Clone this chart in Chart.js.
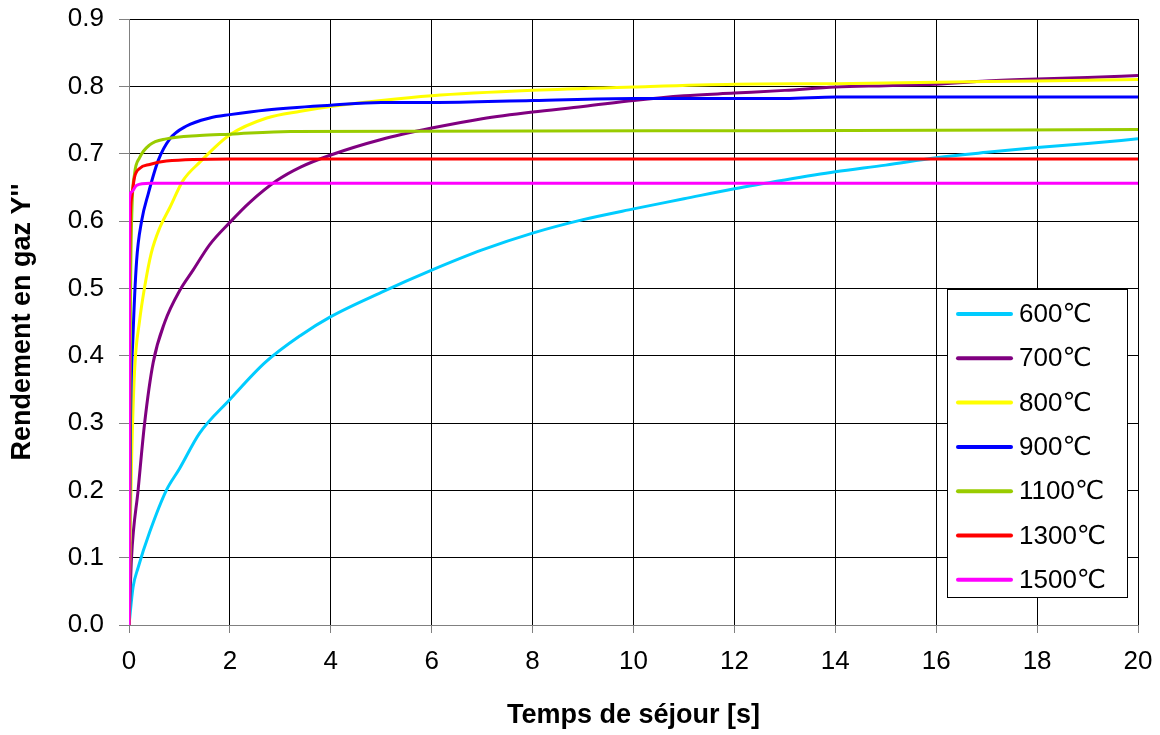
<!DOCTYPE html>
<html>
<head>
<meta charset="utf-8">
<script src="https://cdn.jsdelivr.net/npm/chart.js"></script>
<style>
  body { margin: 0; background: #fff; }
  canvas { display: block; }
</style>
</head>
<body>
<canvas id="chart" width="1160" height="735"></canvas>
<script>
// Series data (time in s, yield Y'')
const labels = ['600℃', '700℃', '800℃', '900℃', '1100℃', '1300℃', '1500℃'];
const colors = ['#00CCFF', '#800080', '#FFFF00', '#0000FF', '#99CC00', '#FF0000', '#FF00FF'];

const t600 = [0, 0.08, 0.18, 0.41, 0.74, 1.0, 1.4, 2.0, 2.7, 3.4, 4, 5, 6, 7, 8, 9, 10, 11, 12, 13, 14, 15, 16, 17, 18, 19, 20];
const y600 = [0, 0.056, 0.085, 0.138, 0.2, 0.232, 0.285, 0.335, 0.39, 0.43, 0.458, 0.494, 0.527, 0.557, 0.582, 0.602, 0.618, 0.633, 0.648, 0.661, 0.673, 0.683, 0.694, 0.702, 0.709, 0.715, 0.722];

const t700 = [0, 0.05, 0.18, 0.31, 0.48, 0.71, 1.0, 1.27, 1.6, 2.0, 2.4, 2.93, 3.4, 4, 5, 6, 7, 8, 9, 10, 11, 12, 13, 14, 15, 16, 17, 18, 19, 20];
const y700 = [0, 0.1, 0.2, 0.3, 0.39, 0.45, 0.496, 0.527, 0.565, 0.598, 0.628, 0.66, 0.68, 0.698, 0.721, 0.738, 0.752, 0.762, 0.77, 0.779, 0.786, 0.79, 0.794, 0.799, 0.801, 0.803, 0.808, 0.811, 0.813, 0.816];

const t800 = [0, 0.02, 0.05, 0.11, 0.21, 0.31, 0.44, 0.61, 0.81, 1.07, 1.4, 2.0, 2.73, 3.4, 4, 5, 6, 8, 10, 12, 14, 16, 18, 20];
const y800 = [0, 0.12, 0.24, 0.377, 0.452, 0.502, 0.552, 0.59, 0.62, 0.66, 0.687, 0.728, 0.753, 0.763, 0.770, 0.779, 0.786, 0.794, 0.799, 0.803, 0.804, 0.806, 0.808, 0.81];

const t900 = [0, 0.03, 0.08, 0.15, 0.25, 0.38, 0.58, 0.81, 1.14, 1.6, 2.0, 2.73, 4, 5, 6, 8, 10, 13, 14, 20];
const y900 = [0, 0.3, 0.43, 0.54, 0.6, 0.64, 0.69, 0.722, 0.741, 0.753, 0.758, 0.765, 0.772, 0.776, 0.776, 0.779, 0.782, 0.782, 0.784, 0.784];

const t1100 = [0, 0.02, 0.03, 0.06, 0.11, 0.21, 0.41, 0.74, 1.4, 2.0, 3.2, 12.7, 20];
const y1100 = [0, 0.35, 0.49, 0.62, 0.67, 0.694, 0.713, 0.722, 0.727, 0.729, 0.733, 0.734, 0.736];

const t1300 = [0, 0.01, 0.05, 0.11, 0.21, 0.41, 0.74, 2.0, 20];
const y1300 = [0, 0.52, 0.634, 0.665, 0.678, 0.684, 0.689, 0.692, 0.692];

const t1500 = [0, 0.005, 0.05, 0.15, 0.41, 20];
const y1500 = [0, 0.628, 0.643, 0.653, 0.656, 0.656];

const xTicks = [0, 2, 4, 6, 8, 10, 12, 14, 16, 18, 20];
const yTicks = [0, 0.1, 0.2, 0.3, 0.4, 0.5, 0.6, 0.7, 0.8, 0.9];

const times = [t600, t700, t800, t900, t1100, t1300, t1500];
const yields = [y600, y700, y800, y900, y1100, y1300, y1500];

const FONT = '"Liberation Sans", Arial, "DejaVu Sans", sans-serif';

// Build datasets
const datasets = labels.map((lab, i) => ({
    label: lab,
    data: times[i].map((t, j) => ({ x: t, y: yields[i][j] })),
    borderColor: colors[i],
    backgroundColor: colors[i],
    borderWidth: 3,
    pointRadius: 0,
    cubicInterpolationMode: 'monotone',
    fill: false,
    order: labels.length - i
}));

// Legend box drawn inside the plot area, like the Excel one
const boxLegend = {
    id: 'boxLegend',
    afterDraw(chart) {
        const ctx = chart.ctx;
        const x = 947.5, y = 289.5, w = 180, h = 308;
        ctx.save();
        ctx.fillStyle = '#fff';
        ctx.fillRect(x, y, w, h);
        ctx.strokeStyle = '#000';
        ctx.lineWidth = 1;
        ctx.strokeRect(x, y, w, h);
        ctx.font = '26px ' + FONT;
        ctx.textBaseline = 'middle';
        ctx.textAlign = 'left';
        chart.data.datasets.forEach((ds, i) => {
            const ry = 314 + i * 44.3;
            ctx.strokeStyle = ds.borderColor;
            ctx.lineWidth = 4;
            ctx.lineCap = 'round';
            ctx.beginPath();
            ctx.moveTo(958, ry);
            ctx.lineTo(1011, ry);
            ctx.stroke();
            ctx.fillStyle = '#000';
            ctx.fillText(ds.label, 1019, ry + 1);
        });
        ctx.restore();
    }
};

new Chart(document.getElementById('chart'), {
    type: 'line',
    data: { datasets },
    plugins: [boxLegend],
    options: {
        responsive: false,
        animation: false,
        devicePixelRatio: 1,
        layout: { padding: { left: 0, top: 19, right: 22, bottom: 0 } },
        plugins: {
            legend: { display: false },
            tooltip: { enabled: false }
        },
        scales: {
            x: {
                type: 'linear',
                min: 0,
                max: 20,
                afterBuildTicks: scale => { scale.ticks = xTicks.map(v => ({ value: v })); },
                afterFit: scale => {
                    scale.height = 110;
                    scale.paddingLeft = 0;
                    scale.paddingRight = 0;
                },
                ticks: {
                    color: '#000',
                    font: { family: FONT, size: 26 },
                    padding: 13,
                    maxRotation: 0
                },
                grid: {
                    color: c => (c.index === 0 ? '#808080' : '#000'),
                    lineWidth: 1,
                    tickLength: 8,
                    tickColor: '#808080'
                },
                border: { color: '#808080', width: 1 },
                title: {
                    display: true,
                    text: 'Temps de séjour [s]',
                    color: '#000',
                    font: { family: FONT, size: 27, weight: 'bold' },
                    padding: { top: 0, bottom: 3 }
                }
            },
            y: {
                min: 0,
                max: 0.9,
                afterBuildTicks: scale => { scale.ticks = yTicks.map(v => ({ value: v })); },
                afterFit: scale => {
                    scale.width = 129;
                    scale.paddingTop = 0;
                    scale.paddingBottom = 0;
                },
                ticks: {
                    color: '#000',
                    font: { family: FONT, size: 26 },
                    padding: 15,
                    callback: v => v.toFixed(1)
                },
                grid: {
                    color: c => (c.index === 0 ? '#808080' : '#000'),
                    lineWidth: 1,
                    tickLength: 10,
                    tickColor: '#808080'
                },
                border: { color: '#808080', width: 1 },
                title: {
                    display: true,
                    text: "Rendement en gaz Y''",
                    color: '#000',
                    font: { family: FONT, size: 27, weight: 'bold' },
                    padding: { top: 6, bottom: 0 }
                }
            }
        }
    }
});
</script>
</body>
</html>
